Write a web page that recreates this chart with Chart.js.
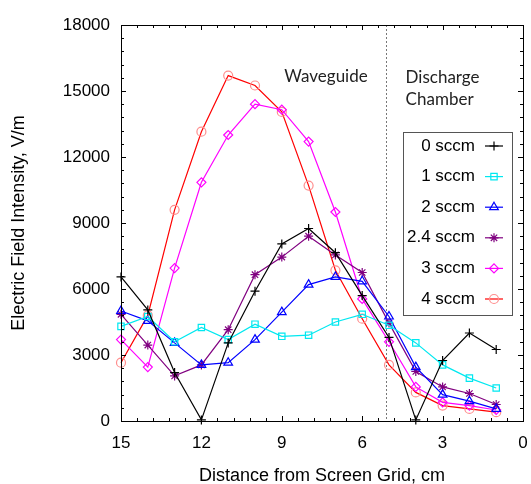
<!DOCTYPE html>
<html>
<head>
<meta charset="utf-8">
<script src="https://cdn.jsdelivr.net/npm/chart.js@4/dist/chart.umd.min.js"></script>
<style>
  body { margin: 0; background: #fff; }
  canvas { display: block; }
</style>
</head>
<body>
<canvas id="myChart" width="531" height="484"></canvas>
<script>
/* global Chart */
// distance from screen grid, cm
const distance = [15, 14, 13, 12, 11, 10, 9, 8, 7, 6, 5, 4, 3, 2, 1];

// electric field intensity, V/m, one array per flow rate
const sccm0 = [6550, 5050, 2200, 50, 3550, 5900, 8050, 8750, 7650, 5700, 3800, 50, 2750, 4000, 3250];
const sccm1 = [4300, 4750, 3600, 4250, 3700, 4400, 3850, 3900, 4500, 4850, 4350, 3550, 2550, 1950, 1500];
const sccm2 = [5000, 4550, 3550, 2550, 2650, 3700, 4950, 6200, 6550, 6350, 4750, 2450, 1200, 900, 550];
const sccm24 = [4850, 3450, 2050, 2550, 4150, 6650, 7450, 8400, 7550, 6750, 4450, 2250, 1550, 1250, 750];
const sccm3 = [3700, 2450, 6950, 10850, 13000, 14400, 14150, 12700, 9500, 5550, 3600, 1550, 850, 700, 500];
const sccm4 = [2650, 4800, 9600, 13150, 15700, 15250, 14050, 10700, 6850, 4650, 2550, 1300, 700, 550, 400];

const seriesLabels = ["0 sccm", "1 sccm", "2 sccm", "2.4 sccm", "3 sccm", "4 sccm"];
const xTicks = [0, 3, 6, 9, 12, 15];
const yTicks = [0, 3000, 6000, 9000, 12000, 15000, 18000];
const chamberEdge = 5.1;

const sans = "'Liberation Sans', Arial, sans-serif";
Chart.defaults.color = "#000";
Chart.defaults.font.family = sans;

function pts(values) {
  return values.map((v, i) => ({ x: distance[i], y: v }));
}

function series(label, values, color, style, radius, pointColor) {
  return {
    label: label,
    data: pts(values),
    borderColor: color,
    borderWidth: 1.2,
    pointStyle: style,
    pointRadius: radius,
    pointBorderColor: pointColor || color,
    pointBackgroundColor: "rgba(0,0,0,0)",
    pointBorderWidth: 1.2,
    clip: false,
    tension: 0,
  };
}

const decorations = {
  id: "decorations",
  beforeDatasetsDraw(chart) {
    const { ctx, chartArea: a, scales } = chart;
    const px = Math.round(scales.x.getPixelForValue(chamberEdge)) + 0.5;
    ctx.save();
    ctx.strokeStyle = "#777";
    ctx.lineWidth = 1;
    ctx.setLineDash([2, 2]);
    ctx.beginPath();
    ctx.moveTo(px, a.top);
    ctx.lineTo(px, a.bottom);
    ctx.stroke();
    ctx.restore();
  },
  afterDatasetsDraw(chart) {
    const { ctx, scales } = chart;
    ctx.save();
    ctx.fillStyle = "#222";
    ctx.font = "17px Lato, 'Open Sans', sans-serif";
    ctx.textBaseline = "middle";
    ctx.textAlign = "center";
    ctx.fillText("Waveguide", scales.x.getPixelForValue(7.35), scales.y.getPixelForValue(15650));
    ctx.textAlign = "left";
    ctx.fillText("Discharge", scales.x.getPixelForValue(4.38), scales.y.getPixelForValue(15600));
    ctx.fillText("Chamber", scales.x.getPixelForValue(4.38), scales.y.getPixelForValue(14600));
    ctx.restore();
  },
  afterDraw(chart) {
    const { ctx, chartArea: a, scales } = chart;
    ctx.save();
    // frame with inward ticks on all four sides
    ctx.strokeStyle = "#000";
    ctx.lineWidth = 1;
    ctx.strokeRect(a.left + 0.5, a.top + 0.5, a.right - a.left, a.bottom - a.top);
    ctx.beginPath();
    for (let i = 0; i <= 25; i++) {
      const p = Math.round(scales.x.getPixelForValue(i * 0.6)) + 0.5;
      const len = i % 5 === 0 ? 5 : 3;
      ctx.moveTo(p, a.bottom);
      ctx.lineTo(p, a.bottom - len);
      ctx.moveTo(p, a.top);
      ctx.lineTo(p, a.top + len);
    }
    for (let i = 0; i <= 30; i++) {
      const p = Math.round(scales.y.getPixelForValue(i * 600)) + 0.5;
      const len = i % 5 === 0 ? 5 : 3;
      ctx.moveTo(a.left, p);
      ctx.lineTo(a.left + len, p);
      ctx.moveTo(a.right, p);
      ctx.lineTo(a.right - len, p);
    }
    ctx.stroke();

    // legend box
    const bx = 403, by = 132, bw = 109, bh = 183;
    ctx.fillStyle = "#fff";
    ctx.fillRect(bx, by, bw, bh);
    ctx.strokeStyle = "#555";
    ctx.strokeRect(bx + 0.5, by + 0.5, bw, bh);
    ctx.font = "17px " + sans;
    ctx.textAlign = "right";
    ctx.textBaseline = "middle";
    chart.data.datasets.forEach((ds, i) => {
      const ry = by + 14 + i * 30.6;
      ctx.fillStyle = "#000";
      ctx.fillText(ds.label, 475, ry);
      ctx.strokeStyle = ds.borderColor;
      ctx.lineWidth = 1.2;
      ctx.beginPath();
      ctx.moveTo(485, ry);
      ctx.lineTo(503, ry);
      ctx.stroke();
      ctx.strokeStyle = ds.pointBorderColor;
      ctx.fillStyle = "rgba(0,0,0,0)";
      Chart.helpers.drawPoint(ctx, {
        pointStyle: ds.pointStyle,
        radius: ds.pointRadius,
        rotation: 0,
        borderWidth: 1.2,
      }, 494, ry);
    });
    ctx.restore();
  },
};

const ctx = document.getElementById("myChart").getContext("2d");
const myChart = new Chart(ctx, {
  type: "line",
  data: {
    datasets: [
      series(seriesLabels[0], sccm0, "#000000", "cross", 4.5),
      series(seriesLabels[1], sccm1, "#00e8f0", "rect", 4.5),
      series(seriesLabels[2], sccm2, "#0000ff", "triangle", 5),
      series(seriesLabels[3], sccm24, "#800080", "star", 4.5),
      series(seriesLabels[4], sccm3, "#ff00ff", "rectRot", 4.5),
      series(seriesLabels[5], sccm4, "#ff0000", "circle", 4.5, "#ff8e8e"),
    ],
  },
  options: {
    responsive: false,
    animation: false,
    layout: { padding: { top: 25, right: 8, bottom: 0, left: 0 } },
    plugins: {
      legend: { display: false },
      tooltip: { enabled: false },
    },
    scales: {
      x: {
        type: "linear",
        reverse: true,
        min: 0,
        max: 15,
        afterFit: (s) => { s.height = 63; },
        afterBuildTicks: (s) => { s.ticks = xTicks.map((v) => ({ value: v })); },
        grid: { display: false, drawTicks: false },
        border: { display: false },
        ticks: { padding: 12, font: { size: 17 }, color: "#000", callback: (v) => String(v) },
        title: {
          display: true,
          text: "Distance from Screen Grid, cm",
          font: { size: 18, lineHeight: 1 },
          padding: { top: 0, bottom: -1 },
          color: "#000",
        },
      },
      y: {
        min: 0,
        max: 18000,
        afterFit: (s) => { s.width = 121; },
        afterBuildTicks: (s) => { s.ticks = yTicks.map((v) => ({ value: v })); },
        grid: { display: false, drawTicks: false },
        border: { display: false },
        ticks: { padding: 11, font: { size: 17 }, color: "#000", callback: (v) => String(v) },
        title: {
          display: true,
          text: "Electric Field Intensity, V/m",
          font: { size: 18, lineHeight: 1 },
          padding: { top: 10, bottom: 0 },
          color: "#000",
        },
      },
    },
  },
  plugins: [decorations],
});
</script>
</body>
</html>
